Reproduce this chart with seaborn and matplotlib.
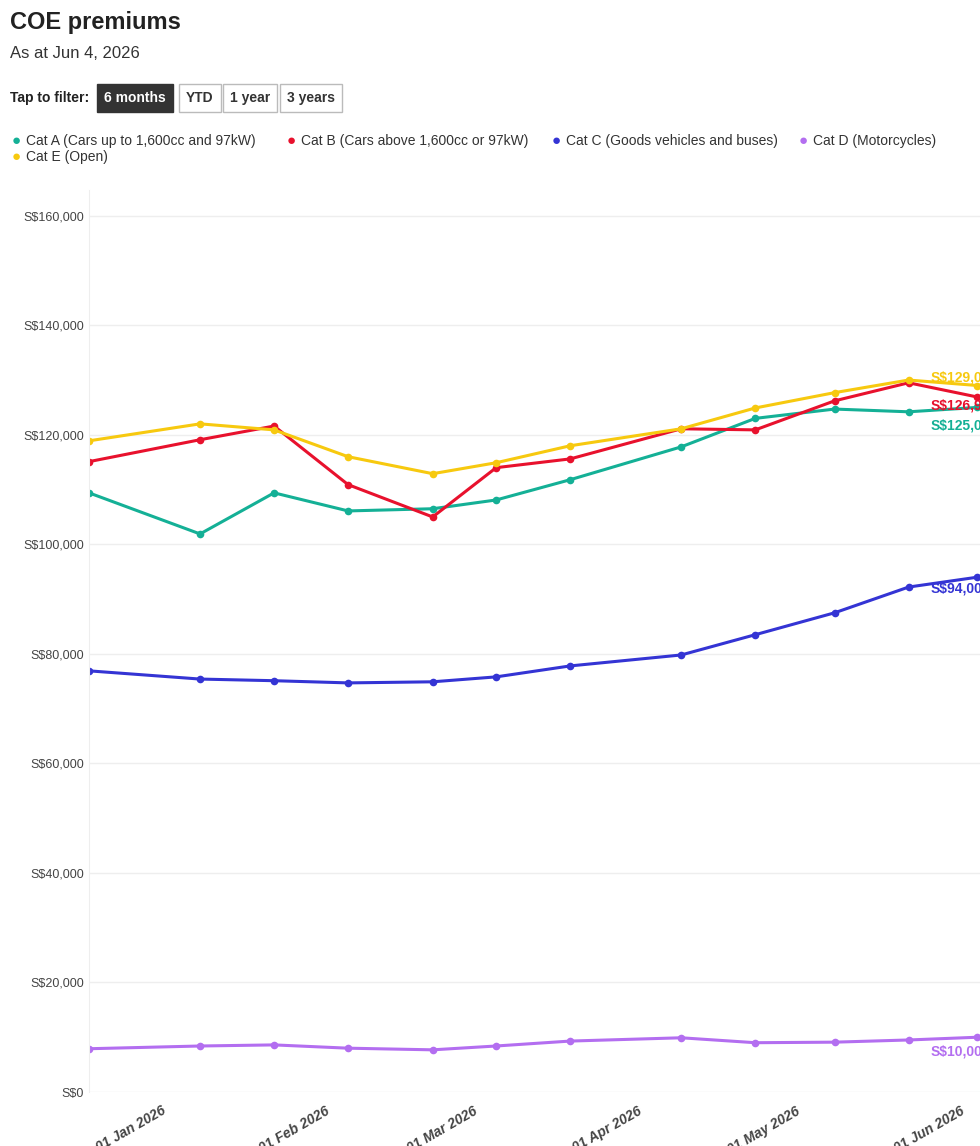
import seaborn as sns
import matplotlib.pyplot as plt
import matplotlib.dates as mdates
import pandas as pd

dates = ['2025-12-17', '2026-01-07', '2026-01-21', '2026-02-04', '2026-02-20', '2026-03-04',
         '2026-03-18', '2026-04-08', '2026-04-22', '2026-05-07', '2026-05-21', '2026-06-03']
cat_a = [109400, 101900, 109400, 106100, 106500, 108100, 111800, 117800, 123000, 124700, 124200, 125001]
cat_b = [115100, 119100, 121600, 110900, 105000, 114000, 115600, 121100, 120900, 126200, 129500, 126901]
cat_c = [76900, 75400, 75100, 74700, 74900, 75800, 77800, 79800, 83500, 87500, 92200, 94001]
cat_d = [7900, 8400, 8600, 8000, 7700, 8400, 9300, 9900, 9000, 9100, 9500, 10001]
cat_e = [118900, 122000, 120900, 116000, 112900, 114900, 118000, 121100, 124900, 127700, 130000, 129001]

names = ['Cat A (Cars up to 1,600cc and 97kW)', 'Cat B (Cars above 1,600cc or 97kW)',
         'Cat C (Goods vehicles and buses)', 'Cat D (Motorcycles)', 'Cat E (Open)']
colors = ['#14b096', '#e8112d', '#3434d4', '#b36ef0', '#f7c90f']

rows = []
for name, vals in zip(names, [cat_a, cat_b, cat_c, cat_d, cat_e]):
    for d, v in zip(dates, vals):
        rows.append({'date': pd.Timestamp(d), 'value': v, 'cat': name})
df = pd.DataFrame(rows)

sns.set_style('white')
plt.rcParams['font.family'] = ['Liberation Sans', 'DejaVu Sans']
fig = plt.figure(figsize=(9.8, 11.46), dpi=100)
ax = fig.add_axes([89 / 980, 1 - 1092 / 1146, 1 - 89 / 980, (1092 - 190) / 1146])

sns.lineplot(data=df, x='date', y='value', hue='cat', palette=colors, hue_order=names,
             marker='o', markersize=5.5, markeredgewidth=0, linewidth=2.2, legend=False, ax=ax)

# end labels
order = [4, 1, 0, 2, 3]
offsets = {4: -6, 1: 6, 0: 13, 2: 8, 3: 10}
vals_all = [cat_a, cat_b, cat_c, cat_d, cat_e]
for i in order:
    v = vals_all[i][-1]
    ax.annotate(f'S${v:,}', (pd.Timestamp(dates[-1]), v), xytext=(-34, -offsets[i]),
                textcoords='offset points', color=colors[i], fontsize=10, fontweight='bold',
                va='center', annotation_clip=False)

ax.set_ylim(0, 164700)
ax.set_xlim(pd.Timestamp('2025-12-17'), pd.Timestamp('2026-06-03 12:00'))
ax.set_yticks(range(0, 160001, 20000))
ax.set_yticklabels([f'S${v:,}' for v in range(0, 160001, 20000)], fontsize=9, color='#444444')
ax.yaxis.grid(True, color='#eeeeee', linewidth=1)
ax.xaxis.set_major_locator(mdates.MonthLocator())
ax.xaxis.set_major_formatter(mdates.DateFormatter('%d %b %Y'))
for lbl in ax.get_xticklabels():
    lbl.set_rotation(30)
    lbl.set_ha('right')
    lbl.set_fontsize(10)
    lbl.set_fontweight('bold')
    lbl.set_fontstyle('italic')
    lbl.set_color('#444444')
ax.tick_params(axis='x', length=5, color='#dddddd')
ax.tick_params(axis='y', length=0)
ax.set_xlabel('')
ax.set_ylabel('')
for s in ['top', 'right', 'bottom']:
    ax.spines[s].set_visible(False)
ax.spines['left'].set_color('#eeeeee')

fig.text(10 / 980, 1 - 23 / 1146, 'COE premiums', fontsize=17, fontweight='bold', color='#222222', va='center')
fig.text(10 / 980, 1 - 54 / 1146, 'As at Jun 4, 2026', fontsize=12, color='#333333', va='center')
fig.text(10 / 980, 1 - 98 / 1146, 'Tap to filter:', fontsize=10, fontweight='bold', color='#222222', va='center')
buttons = [('6 months', 104, True), ('YTD', 186, False), ('1 year', 230, False), ('3 years', 287, False)]
for label, x, active in buttons:
    fig.text(x / 980, 1 - 98 / 1146, label, fontsize=10, fontweight='bold', va='center',
             color='white' if active else '#333333',
             bbox=dict(boxstyle='square,pad=0.5', fc='#333333' if active else 'white',
                       ec='#333333' if active else '#bbbbbb', lw=1))

legend_pos = [(12, 141), (287, 141), (552, 141), (799, 141), (12, 157)]
for (x, y), name, c in zip(legend_pos, names, colors):
    fig.text(x / 980, 1 - y / 1146, '\u25cf', color=c, fontsize=11, va='center')
    fig.text((x + 14) / 980, 1 - y / 1146, name, color='#333333', fontsize=10, va='center')

fig.savefig('out.png', dpi=100)
